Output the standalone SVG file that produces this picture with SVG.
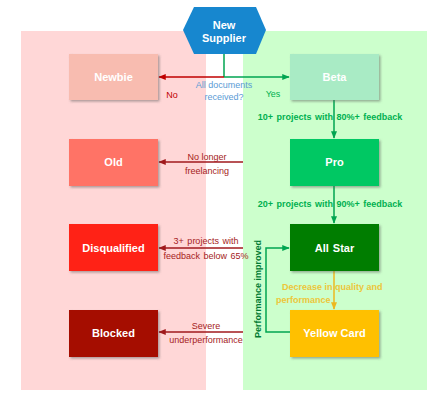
<svg xmlns="http://www.w3.org/2000/svg" width="440" height="411" viewBox="0 0 440 411">
<style>
.box{filter:url(#sh)}
.bt{font-family:"Liberation Sans",Arial,sans-serif;font-weight:bold;font-size:11px;fill:#fff;text-anchor:middle}
.lbl{font-family:"Liberation Sans",Arial,sans-serif;font-size:9px}
.red{fill:#A52222}
.grn{fill:#00B050;font-weight:bold;word-spacing:1px}
.ln{fill:none;stroke-width:1.5}
</style>
<defs>
<filter id="sh" x="-10%" y="-10%" width="130%" height="130%">
<feDropShadow dx="1.5" dy="1.5" stdDeviation="1" flood-color="#555" flood-opacity="0.5"/>
</filter>
<marker id="aR" viewBox="0 0 10 10" refX="9" refY="5" markerWidth="5" markerHeight="5" orient="auto"><path d="M0,1 L10,5 L0,9 z" fill="#C00000"/></marker>
<marker id="aD" viewBox="0 0 10 10" refX="9" refY="5" markerWidth="5" markerHeight="5" orient="auto"><path d="M0,1 L10,5 L0,9 z" fill="#A0191C"/></marker>
<marker id="aG" viewBox="0 0 10 10" refX="9" refY="5" markerWidth="5" markerHeight="5" orient="auto"><path d="M0,1 L10,5 L0,9 z" fill="#00A550"/></marker>
<marker id="aY" viewBox="0 0 10 10" refX="9" refY="5" markerWidth="5" markerHeight="5" orient="auto"><path d="M0,1 L10,5 L0,9 z" fill="#EDB820"/></marker>
</defs>
<rect width="440" height="411" fill="#fff"/>
<rect x="21" y="31" width="185" height="359" fill="#FFD7D7"/>
<rect x="243" y="31" width="184" height="359" fill="#CCFFCC"/>

<g id="connectors">
<path class="ln" d="M224,53 V77" stroke="#00A550"/>
<path class="ln" d="M224,77 H159" stroke="#C00000" marker-end="url(#aR)"/>
<path class="ln" d="M224,77 H289" stroke="#00A550" marker-end="url(#aG)"/>
<path class="ln" d="M334,100 V138" stroke="#00A550" marker-end="url(#aG)"/>
<path class="ln" d="M334,186 V223" stroke="#00A550" marker-end="url(#aG)"/>
<path class="ln" d="M334,271 V309" stroke="#EDB820" marker-end="url(#aY)"/>
<path class="ln" d="M243,162 H159" stroke="#A0191C" marker-end="url(#aD)"/>
<path class="ln" d="M243,248 H159" stroke="#A0191C" marker-end="url(#aD)"/>
<path class="ln" d="M243,332 H159" stroke="#A0191C" marker-end="url(#aD)"/>
<path class="ln" d="M290,332 H266 V248 H289" stroke="#00A550" marker-end="url(#aG)"/>
<text class="lbl" x="224" y="88" text-anchor="middle" fill="#5B9BD5">All documents</text>
<text class="lbl" x="224" y="100" text-anchor="middle" fill="#5B9BD5">received?</text>
<text class="lbl" x="172" y="98" text-anchor="middle" fill="#C00000">No</text>
<text class="lbl" x="273" y="97" text-anchor="middle" fill="#00B050">Yes</text>
<text class="lbl grn" x="330" y="120" text-anchor="middle">10+ projects with 80%+ feedback</text>
<text class="lbl grn" x="330" y="207" text-anchor="middle">20+ projects with 90%+ feedback</text>
<text class="lbl red" x="207" y="160" text-anchor="middle">No longer</text>
<text class="lbl red" x="207" y="174" text-anchor="middle">freelancing</text>
<text class="lbl red" x="206" y="244" text-anchor="middle" word-spacing="1">3+ projects with</text>
<text class="lbl red" x="206" y="259" text-anchor="middle" word-spacing="1">feedback below 65%</text>
<text class="lbl red" x="206" y="329" text-anchor="middle">Severe</text>
<text class="lbl red" x="206" y="343" text-anchor="middle">underperformance</text>
<text class="lbl" x="282" y="290" font-weight="bold" fill="#EDC63A">Decrease in quality and</text>
<text class="lbl" x="276" y="303" font-weight="bold" fill="#EDC63A">performance</text>
<text class="lbl" transform="translate(261,289) rotate(-90)" text-anchor="middle" font-size="7.5" font-weight="bold" fill="#007A33">Performance improved</text>
</g>

<g id="new-supplier">
<polygon points="183,30 194,7 256,7 266,30 256,54 194,54" fill="#1787CF"/>
<text class="bt" x="224" y="29">New</text>
<text class="bt" x="224" y="42">Supplier</text>
</g>
<g id="newbie"><rect class="box" x="69" y="54" width="89" height="46" fill="#F8BCB0"/><text class="bt" x="113.5" y="81">Newbie</text></g>
<g id="beta"><rect class="box" x="290" y="54" width="89" height="46" fill="#A9EBC5"/><text class="bt" x="334.5" y="81">Beta</text></g>
<g id="old"><rect class="box" x="69" y="139" width="89" height="47" fill="#FF7366"/><text class="bt" x="113.5" y="166">Old</text></g>
<g id="pro"><rect class="box" x="290" y="139" width="89" height="47" fill="#00C864"/><text class="bt" x="334.5" y="166">Pro</text></g>
<g id="disqualified"><rect class="box" x="69" y="224" width="89" height="47" fill="#FF2314"/><text class="bt" x="113.5" y="252">Disqualified</text></g>
<g id="all-star"><rect class="box" x="290" y="224" width="89" height="47" fill="#007D00"/><text class="bt" x="334.5" y="252" word-spacing="1">All Star</text></g>
<g id="blocked"><rect class="box" x="69" y="310" width="89" height="47" fill="#A50F00"/><text class="bt" x="113.5" y="337">Blocked</text></g>
<g id="yellow-card"><rect class="box" x="290" y="310" width="89" height="47" fill="#FFC000"/><text class="bt" x="334.5" y="337">Yellow Card</text></g>
</svg>
